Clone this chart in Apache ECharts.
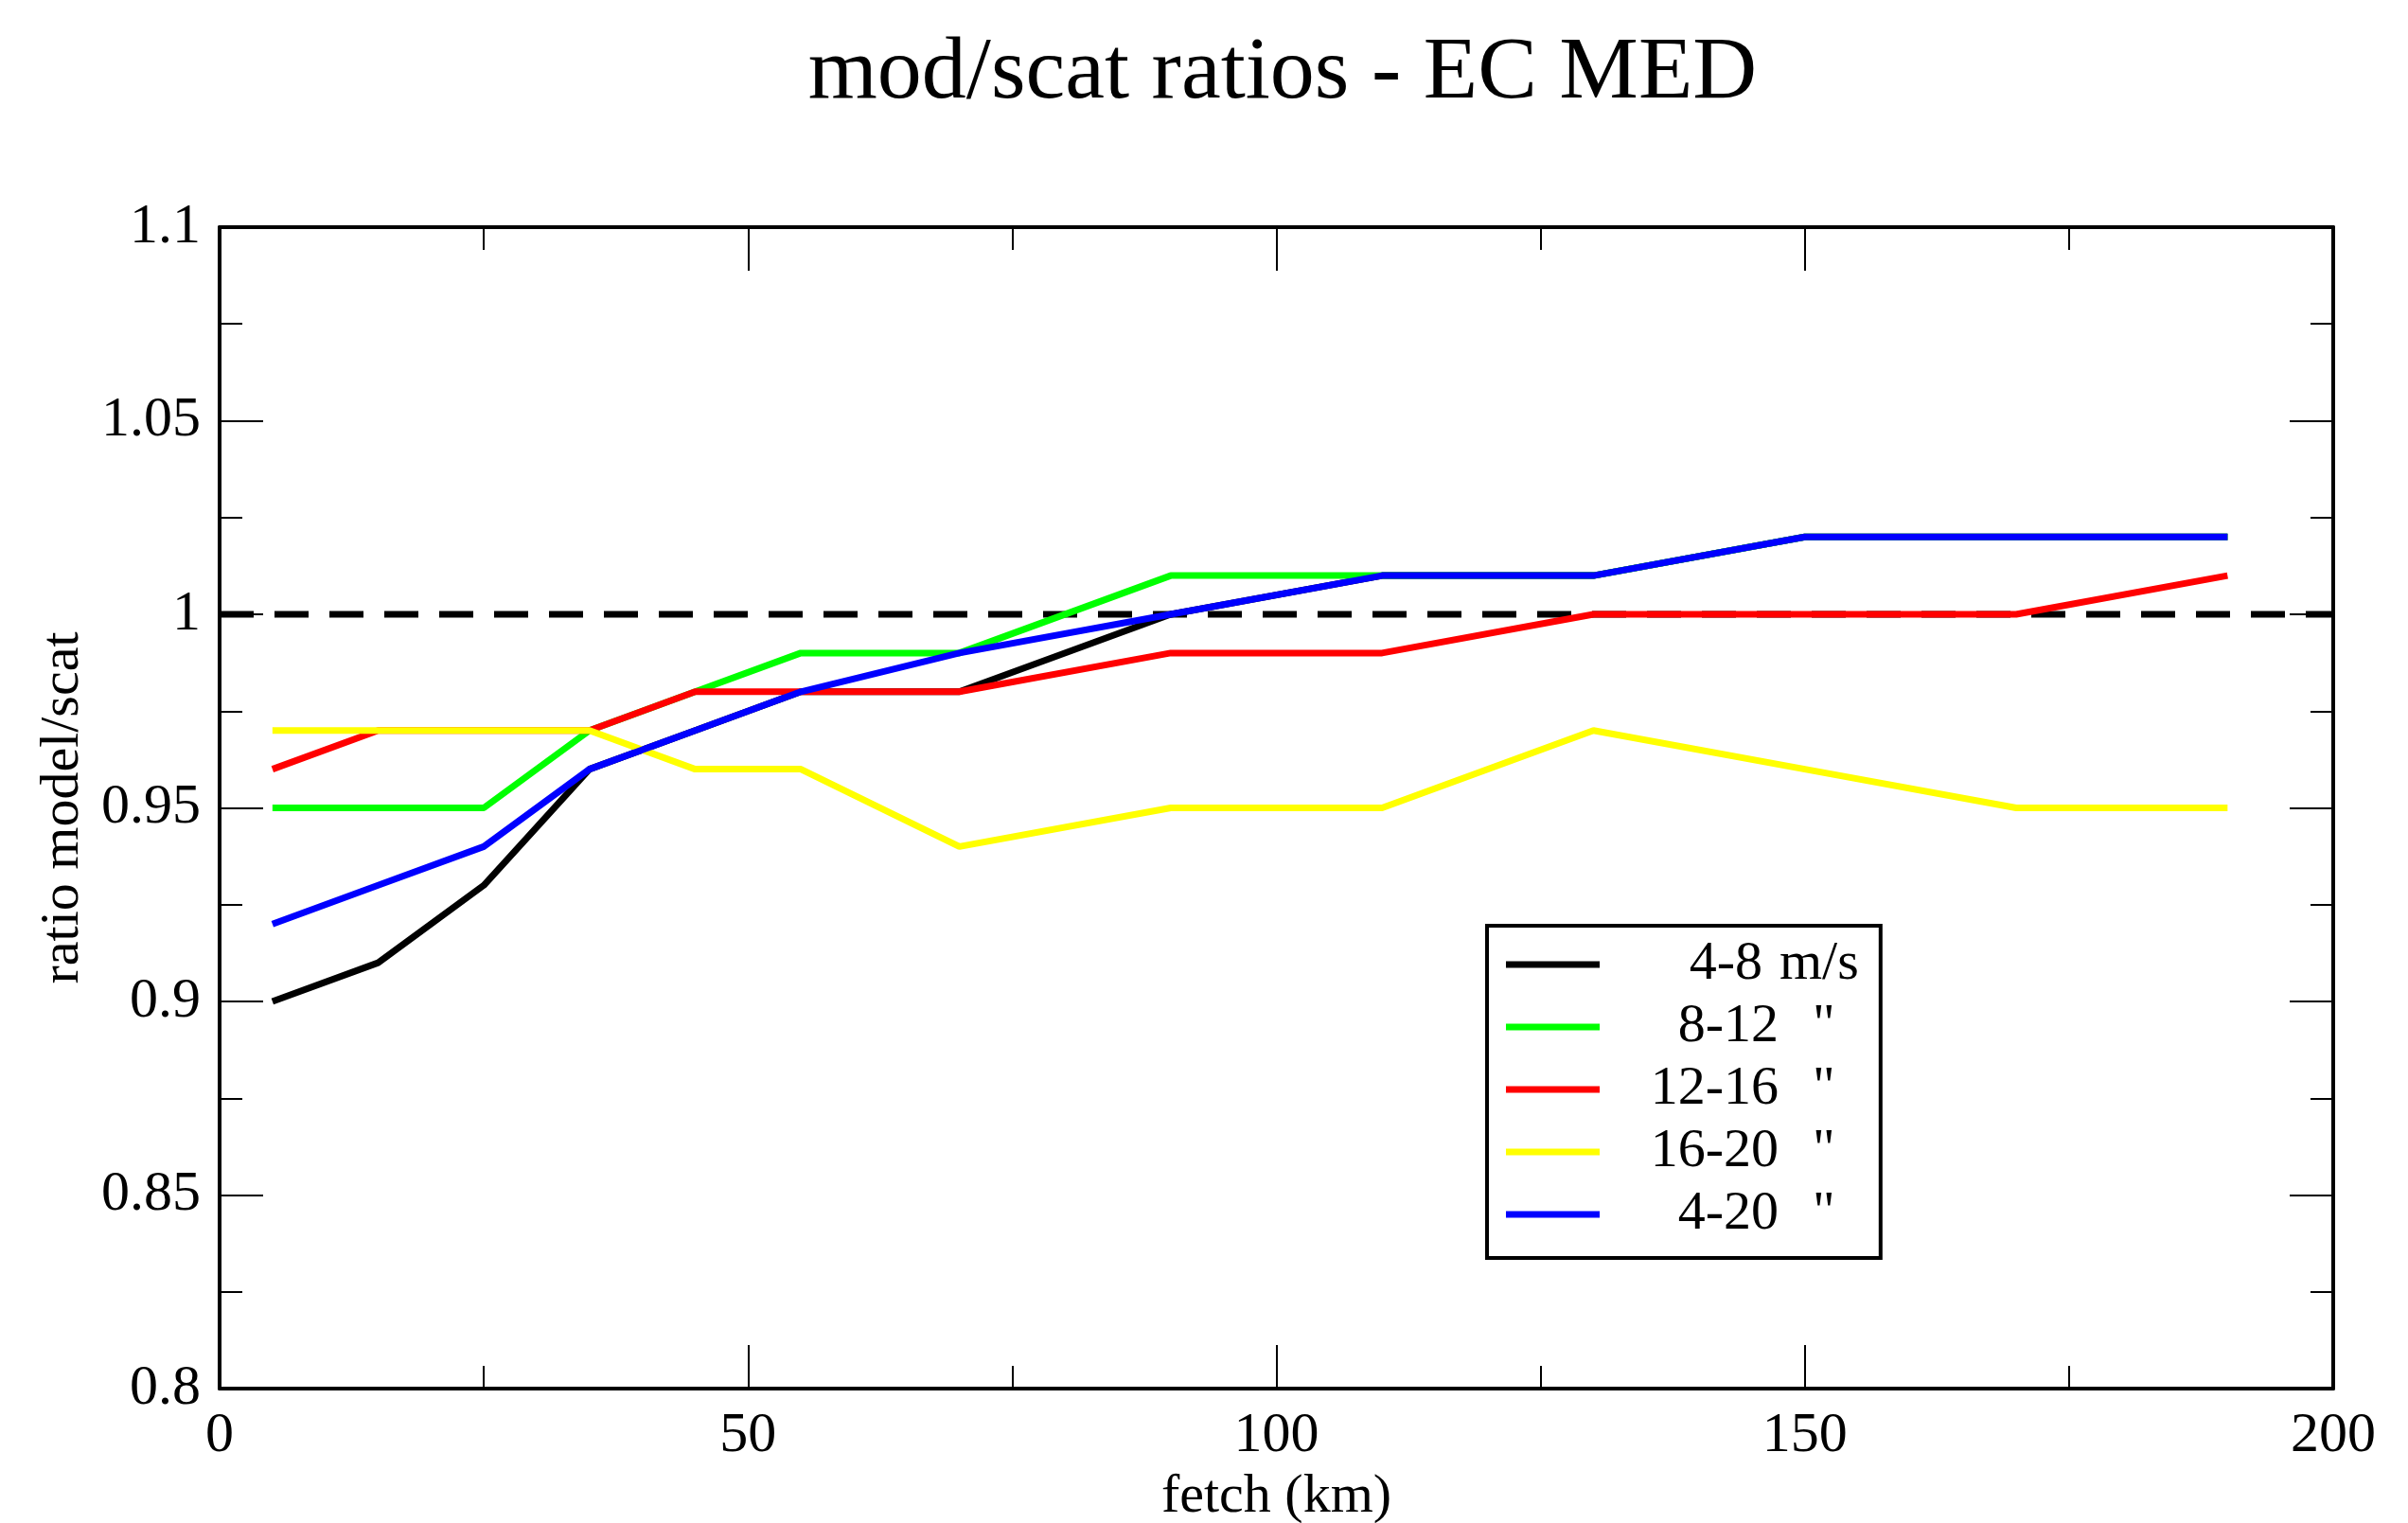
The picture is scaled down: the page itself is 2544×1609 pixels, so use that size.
<!DOCTYPE html>
<html>
<head>
<meta charset="utf-8">
<title>mod/scat ratios - EC MED</title>
<script src="https://cdn.jsdelivr.net/npm/echarts@6/dist/echarts.min.js"></script>
<style>
    html, body { margin: 0; padding: 0; background: #ffffff; }
    #main { width: 2544px; height: 1609px; }
</style>
</head>
<body>
<div id="main"></div>
<script>
// fetch (km)
var fetchKm = [5, 15, 25, 35, 45, 55, 70, 90, 110, 130, 150, 170, 190];

// ratio model/scat per wind class
var ratio4to8 = [0.90, 0.91, 0.93, 0.96, 0.97, 0.98, 0.98, 1.00, 1.01, 1.01, 1.02, 1.02, 1.02];
var ratio8to12 = [0.95, 0.95, 0.95, 0.97, 0.98, 0.99, 0.99, 1.01, 1.01, 1.01, 1.02, 1.02, 1.02];
var ratio12to16 = [0.96, 0.97, 0.97, 0.97, 0.98, 0.98, 0.98, 0.99, 0.99, 1.00, 1.00, 1.00, 1.01];
var ratio16to20 = [0.97, 0.97, 0.97, 0.97, 0.96, 0.96, 0.94, 0.95, 0.95, 0.97, 0.96, 0.95, 0.95];
var ratio4to20 = [0.92, 0.93, 0.94, 0.96, 0.97, 0.98, 0.99, 1.00, 1.01, 1.01, 1.02, 1.02, 1.02];

// reference line at ratio 1
var refX = [0, 200];
var refY = [1, 1];

var seriesNames = ['4-8 m/s', '8-12 "', '12-16 "', '16-20 "', '4-20 "'];
var legendNum = ['4-8', '8-12', '12-16', '16-20', '4-20'];
var legendUnit = ['m/s', '"', '"', '"', '"'];
var seriesColors = ['#000000', '#00ff00', '#ff0000', '#ffff00', '#0000ff'];
var seriesData = [ratio4to8, ratio8to12, ratio12to16, ratio16to20, ratio4to20];

var FONT = '"Liberation Serif", "DejaVu Serif", serif';
var LEGEND_SIZE = 58;

function pairs(xs, ys) {
    var out = [];
    for (var i = 0; i < xs.length; i++) {
        out.push([xs[i], ys[i]]);
    }
    return out;
}

// measure text so the legend numbers can be right aligned by padding
var measureCtx = document.createElement('canvas').getContext('2d');
measureCtx.font = LEGEND_SIZE + 'px ' + FONT;
function textWidth(t) {
    return measureCtx.measureText(t).width;
}

function makeAxis(opts) {
    var axis = {
        type: 'value',
        axisLine: { show: true, onZero: false, lineStyle: { color: '#000', width: 4 } },
        axisTick: { show: true, inside: true, length: 46, lineStyle: { color: '#000', width: 2 } },
        minorTick: { show: true, splitNumber: 2, length: 24, lineStyle: { color: '#000', width: 2 } },
        splitLine: { show: false },
        axisLabel: { show: false }
    };
    for (var k in opts) {
        axis[k] = opts[k];
    }
    return axis;
}

var chart = echarts.init(document.getElementById('main'), null, { renderer: 'canvas' });

var series = [];

// dashed line first so the curves sit on top of it
series.push({
    name: 'ref',
    type: 'line',
    data: pairs(refX, refY),
    symbol: 'none',
    silent: true,
    lineStyle: { color: '#000', width: 7, type: [36, 22] },
    z: 1
});

for (var s = 0; s < seriesNames.length; s++) {
    series.push({
        name: seriesNames[s],
        type: 'line',
        data: pairs(fetchKm, seriesData[s]),
        symbol: 'none',
        color: seriesColors[s],
        lineStyle: { color: seriesColors[s], width: 7 },
        z: 2 + s
    });
}

var richBase = { fontFamily: FONT, fontSize: LEGEND_SIZE, lineHeight: LEGEND_SIZE, color: '#000' };
function rich(extra) {
    var r = {};
    for (var k in richBase) { r[k] = richBase[k]; }
    for (var e in extra) { r[e] = extra[e]; }
    return r;
}

var option = {
    backgroundColor: '#ffffff',
    animation: false,
    title: {
        text: 'mod/scat ratios - EC MED',
        left: 1350,
        textAlign: 'center',
        top: 26,
        textStyle: { fontFamily: FONT, fontSize: 94, fontWeight: 'normal', color: '#000' }
    },
    grid: { left: 232, top: 240, width: 2233, height: 1227, outerBoundsMode: 'none', containLabel: false },
    legend: {
        data: seriesNames,
        orient: 'vertical',
        left: 1571,
        top: 978,
        padding: [12, 23, 17, 20],
        itemGap: 8,
        itemWidth: 99,
        itemHeight: 7,
        icon: 'rect',
        selectedMode: false,
        backgroundColor: '#ffffff',
        borderColor: '#000',
        borderWidth: 4,
        borderRadius: 0,
        formatter: function (name) {
            var i = seriesNames.indexOf(name);
            if (i === 0) {
                return '{p0|}{n|' + legendNum[i] + '}{s|' + legendUnit[i] + '}';
            }
            return '{p' + i + '|}{n|' + legendNum[i] + '}{q|' + legendUnit[i] + '}';
        },
        textStyle: {
            fontFamily: FONT,
            fontSize: LEGEND_SIZE,
            color: '#000',
            lineHeight: LEGEND_SIZE,
            rich: {
                p0: rich({ width: 167 - textWidth(legendNum[0]) }),
                p1: rich({ width: 184 - textWidth(legendNum[1]) }),
                p2: rich({ width: 184 - textWidth(legendNum[2]) }),
                p3: rich({ width: 184 - textWidth(legendNum[3]) }),
                p4: rich({ width: 184 - textWidth(legendNum[4]) }),
                n: rich({}),
                s: rich({ padding: [0, 0, 0, 18] }),
                q: rich({ padding: [0, 0, 0, 36] })
            }
        }
    },
    xAxis: [
        makeAxis({
            position: 'bottom',
            min: 0,
            max: 200,
            interval: 50,
            name: 'fetch (km)',
            nameLocation: 'middle',
            nameGap: 86,
            nameTextStyle: { fontFamily: FONT, fontSize: 58, color: '#000' },
            axisLabel: { show: true, margin: 20, fontFamily: FONT, fontSize: 60, color: '#000' }
        }),
        makeAxis({ position: 'top', min: 0, max: 200, interval: 50 })
    ],
    yAxis: [
        makeAxis({
            position: 'left',
            min: 0.8,
            max: 1.1,
            interval: 0.05,
            name: 'ratio model/scat',
            nameLocation: 'middle',
            nameGap: 136,
            nameTextStyle: { fontFamily: FONT, fontSize: 58, color: '#000' },
            axisLabel: { show: true, margin: 20, fontFamily: FONT, fontSize: 60, color: '#000' }
        }),
        makeAxis({ position: 'right', min: 0.8, max: 1.1, interval: 0.05 })
    ],
    series: series
};

chart.setOption(option);
</script>
</body>
</html>
